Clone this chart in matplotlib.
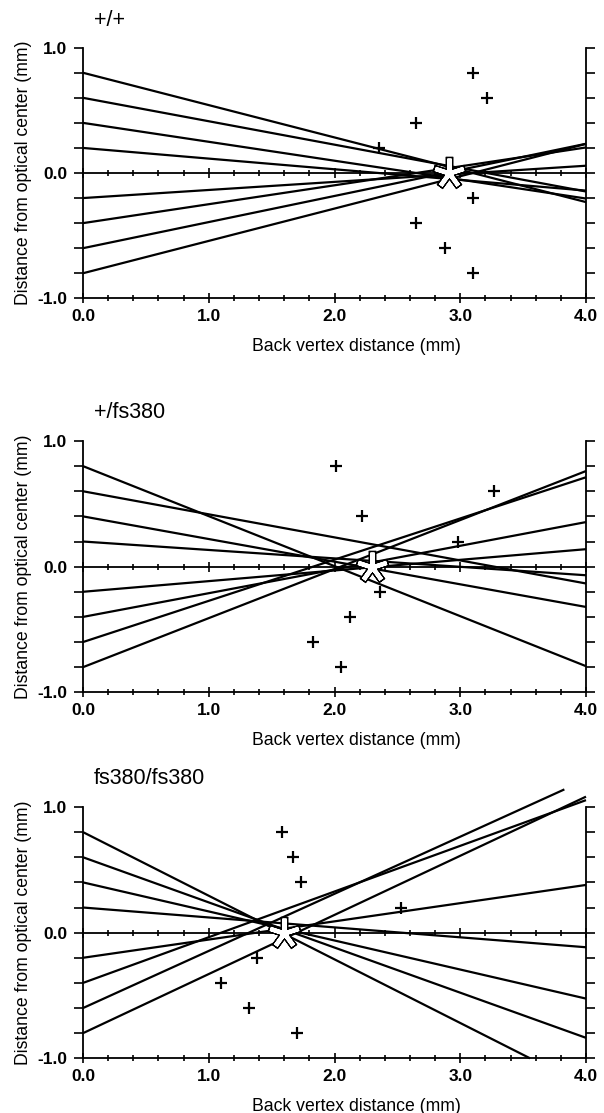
import numpy as np
import matplotlib
matplotlib.use("Agg")
import matplotlib.pyplot as plt
from matplotlib.ticker import MultipleLocator, FormatStrFormatter, NullFormatter

plt.rcParams['font.family'] = ['Liberation Sans', 'DejaVu Sans']
plt.rcParams['axes.unicode_minus'] = False

# ray heights at the lens (mm) and where each ray crosses the axis (mm)
heights = [0.8, 0.6, 0.4, 0.2, -0.2, -0.4, -0.6, -0.8]
cross_pp = [3.10, 3.21, 2.65, 2.35, 3.10, 2.65, 2.88, 3.10]
cross_pfs = [2.01, 3.27, 2.22, 2.98, 2.36, 2.12, 1.83, 2.05]
cross_fsfs = [1.58, 1.67, 1.73, 2.53, 1.38, 1.10, 1.32, 1.70]
focus_x = [2.91, 2.30, 1.60]
titles = ['+/+', '+/fs380', 'fs380/fs380']
crossings = [cross_pp, cross_pfs, cross_fsfs]

W, H = 604, 1113
fig = plt.figure(figsize=(W / 100, H / 100), dpi=100)

left_px, right_px = 83, 586
panel_px = [(47.7, 298.3), (441.0, 692.3), (807.0, 1058.3)]
title_y = [20, 413, 778]

x_max = 4.0
y_top_clip = 1.14

for i, (top, bot) in enumerate(panel_px):
    ax = fig.add_axes([left_px / W, 1 - bot / H, (right_px - left_px) / W, (bot - top) / H])
    ax.set_xlim(0, 4)
    ax.set_ylim(-1, 1)

    # rays
    for h, xc in zip(heights, crossings[i]):
        slope = -h / xc
        x_end = x_max
        y_end = h + slope * x_end
        if y_end > y_top_clip:
            x_end = (y_top_clip - h) / slope
        elif y_end < -1:
            x_end = (-1 - h) / slope
        ax.plot([0, x_end], [h, h + slope * x_end], color='black', lw=1.6,
                clip_on=False, zorder=3, solid_capstyle='butt')

    # crossing points
    ax.plot(crossings[i], heights, linestyle='none', marker='+', ms=8,
            mew=1.6, color='black', zorder=4)

    # focus asterisk: white with black outline
    ax.plot([focus_x[i]], [0], marker=(5, 2, 0), ms=24, mew=5.4,
            color='black', linestyle='none', zorder=5)
    ax.plot([focus_x[i]], [0], marker=(5, 2, 0), ms=21.5, mew=3.1,
            color='white', linestyle='none', zorder=6)

    # axes styling
    ax.spines['top'].set_visible(False)
    for s in ['left', 'right', 'bottom']:
        ax.spines[s].set_linewidth(1.3)

    ax.xaxis.set_major_locator(MultipleLocator(1.0))
    ax.xaxis.set_minor_locator(MultipleLocator(0.2))
    ax.yaxis.set_major_locator(MultipleLocator(1.0))
    ax.yaxis.set_minor_locator(MultipleLocator(0.2))
    ax.xaxis.set_major_formatter(FormatStrFormatter('%.1f'))
    ax.yaxis.set_major_formatter(FormatStrFormatter('%.1f'))

    ax.tick_params(axis='x', which='major', direction='inout', length=7,
                   width=1.2, pad=4, labelsize=12.5)
    ax.tick_params(axis='x', which='minor', direction='inout', length=4.5,
                   width=1.2)
    ax.tick_params(axis='y', which='both', direction='out', length=6.5,
                   width=1.2, left=True, right=True, labelright=False)
    ax.tick_params(axis='y', which='major', pad=5, labelsize=12.5)
    for lab in ax.get_xticklabels() + ax.get_yticklabels():
        lab.set_fontweight('bold')

    # zero line with crossing ticks
    zero = ax.secondary_xaxis(0.5)
    for s in zero.spines.values():
        s.set_linewidth(1.3)
    zero.xaxis.set_major_locator(MultipleLocator(1.0))
    zero.xaxis.set_minor_locator(MultipleLocator(0.2))
    zero.xaxis.set_major_formatter(NullFormatter())
    zero.tick_params(axis='x', which='major', direction='inout', length=6.5,
                     width=1.2, labeltop=False, labelbottom=False)
    zero.tick_params(axis='x', which='minor', direction='inout', length=4.2,
                     width=1.2)

    ax_h = bot - top
    ax.text((356 - left_px) / (right_px - left_px), -48 / ax_h,
            'Back vertex distance (mm)', transform=ax.transAxes,
            ha='center', va='center', fontsize=12.7)
    ax.text((24 - left_px) / (right_px - left_px), 0.5,
            'Distance from optical center (mm)', transform=ax.transAxes,
            ha='center', va='center', rotation=90, fontsize=12.7)

    fig.text(94 / W, 1 - title_y[i] / H, titles[i], ha='left', va='center',
             fontsize=15.5)

fig.savefig('out.png', dpi=100)
